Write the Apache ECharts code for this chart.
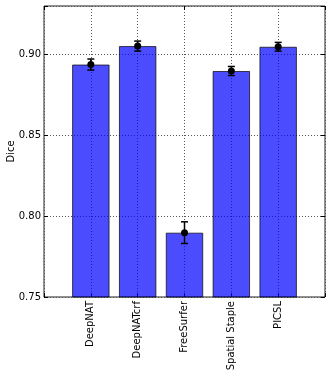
<!DOCTYPE html>
<html>
<head>
<meta charset="utf-8">
<script src="https://cdn.jsdelivr.net/npm/echarts@6/dist/echarts.min.js"></script>
<style>
  html, body { margin: 0; padding: 0; background: #fff; }
  #chart { width: 332px; height: 376px; }
</style>
</head>
<body>
<div id="chart"></div>
<script>
// dice scores per method
const methods = ['DeepNAT', 'DeepNATcrf', 'FreeSurfer', 'Spatial Staple', 'PICSL'];
const dice = [0.8938, 0.9052, 0.7898, 0.8898, 0.9048];
const diceErr = [0.0034, 0.0031, 0.0067, 0.0028, 0.0027];
const yTicks = [0.75, 0.80, 0.85, 0.90];

// one empty slot on each side so the bars sit a full step in from the frame
const cats = [''].concat(methods, ['']);
const pad = arr => [null].concat(arr, [null]);

const chart = echarts.init(document.getElementById('chart'));
const font = 'DejaVu Sans';
const grid = { color: '#555', type: [1, 2], width: 1 };

const option = {
    animation: false,
    textStyle: { fontFamily: font },
    grid: {
        left: 44, right: 7, top: 6, bottom: 79,
        outerBoundsMode: 'none',
        containLabel: false,
        show: true, borderColor: '#222', borderWidth: 1
    },
    xAxis: [{
        type: 'category',
        data: cats,
        boundaryGap: false,
        axisLine: { show: false },
        axisTick: { show: true, inside: true, length: 4, lineStyle: { color: '#000' } },
        axisLabel: { rotate: 90, fontSize: 10, color: '#000', margin: 4, interval: 0, fontFamily: font },
        splitLine: { show: true, lineStyle: grid }
    }, {
        type: 'category',
        data: cats,
        boundaryGap: false,
        position: 'top',
        axisLine: { show: false },
        axisTick: { show: true, inside: true, length: 4, lineStyle: { color: '#000' } },
        axisLabel: { show: false },
        splitLine: { show: false }
    }],
    yAxis: [{
        type: 'value',
        min: 0.75, max: 0.93, interval: 0.05,
        name: 'Dice',
        nameLocation: 'middle',
        nameGap: 28,
        nameMoveOverlap: false,
        nameTextStyle: { fontSize: 10, color: '#000', fontFamily: font },
        axisLine: { show: false },
        axisTick: { show: true, inside: true, length: 4, lineStyle: { color: '#000' } },
        axisLabel: {
            fontSize: 10, color: '#000', margin: 3, fontFamily: font,
            formatter: v => yTicks.some(t => Math.abs(t - v) < 1e-9) ? v.toFixed(2) : ''
        },
        splitLine: { show: true, lineStyle: grid }
    }, {
        type: 'value',
        min: 0.75, max: 0.93, interval: 0.05,
        position: 'right',
        axisLine: { show: false },
        axisTick: { show: true, inside: true, length: 4, lineStyle: { color: '#000' } },
        axisLabel: { show: false },
        splitLine: { show: false }
    }],
    series: [{
        type: 'bar',
        data: pad(dice),
        barCategoryGap: '20%',
        itemStyle: {
            color: 'rgba(0,0,255,0.7)',
            borderColor: 'rgba(0,0,0,0.7)',
            borderWidth: 1
        }
    }, {
        type: 'custom',
        data: pad(dice).map((v, i) => v == null ? [i, null, null] : [i, v, diceErr[i - 1]]),
        renderItem: (params, api) => {
            const v = api.value(1);
            if (v == null || isNaN(v)) return;
            const e = api.value(2);
            const hi = api.coord([api.value(0), v + e]);
            const lo = api.coord([api.value(0), v - e]);
            const cw = 3.5;
            const st = { stroke: '#000', lineWidth: 1.5 };
            return {
                type: 'group',
                children: [
                    { type: 'line', shape: { x1: hi[0], y1: hi[1], x2: lo[0], y2: lo[1] }, style: st },
                    { type: 'line', shape: { x1: hi[0] - cw, y1: hi[1], x2: hi[0] + cw, y2: hi[1] }, style: st },
                    { type: 'line', shape: { x1: lo[0] - cw, y1: lo[1], x2: lo[0] + cw, y2: lo[1] }, style: st }
                ]
            };
        },
        z: 3
    }, {
        type: 'scatter',
        data: pad(dice),
        symbol: 'circle',
        symbolSize: 7,
        itemStyle: { color: '#000', opacity: 1 },
        z: 4
    }]
};

chart.setOption(option);
</script>
</body>
</html>
